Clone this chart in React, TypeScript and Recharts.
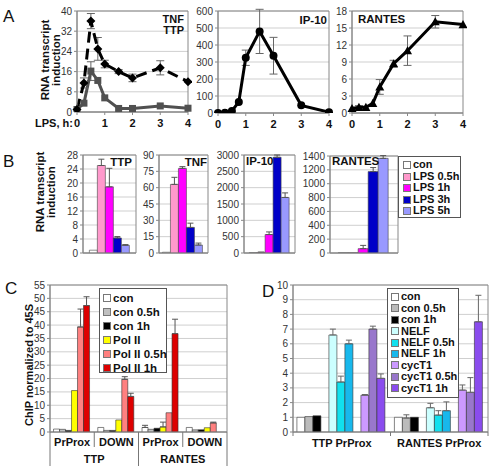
import React from "react";
import {
  LineChart,
  Line,
  BarChart,
  Bar,
  XAxis,
  YAxis,
  CartesianGrid,
  ErrorBar,
  ReferenceArea,
} from "recharts";

const FONT = '"Liberation Sans", Arial, Helvetica, sans-serif';

// ---------------- Panel A data ----------------
const lpsHours = [0, 0.25, 0.5, 0.75, 1, 1.5, 2, 3, 4];
const hourTicks = [0, 1, 2, 3, 4];
const tnfA = [1, 11.5, 36, 25, 19, 16, 13.5, 17.5, 12];
const tnfAErr = [null, 2, 3, 4.5, 1.5, 0.8, 1.5, 2.8, null];
const ttpA = [1, 3.5, 16.2, 12.5, 5.6, 1.4, 1.4, 2.4, 1.5];
const ttpAErr = [null, null, 3.7, null, null, null, null, null, null];
const ip10A = [0, 2, 12, 65, 325, 480, 337, 45, 5];
const ip10AErr = [null, null, null, null, 45, 130, 108, null, null];
const rantesA = [0.8, 1.0, 1.0, 1.7, 4.6, 8.7, 11, 16.1, 15.6];
const rantesAErr = [null, 0.3, null, null, 1.3, 0.6, 2.6, 1.1, null];
const tnfTtpTicks = [0, 8, 16, 24, 32, 40];
const ip10Ticks = [0, 100, 200, 300, 400, 500, 600];
const rantesTicks = [0, 3, 6, 9, 12, 15, 18];

// ---------------- Panel B data ----------------
const genesB = ["TTP", "TNF", "IP-10", "RANTES"];
const seriesB = ["con", "LPS 0.5h", "LPS 1h", "LPS 3h", "LPS 5h"];
const colorsB = ["#FFFFFF", "#FF99CC", "#FF00FF", "#0000C8", "#9999FF"];
const bCon = [0.8, 0.7, 3, 1];
const bLps05 = [25, 63, 20, 2];
const bLps1 = [18.9, 77.7, 565, 63];
const bLps3 = [4.3, 23.5, 2930, 1175];
const bLps5 = [2.2, 7.3, 1700, 1366];
const bConErr = [0, 0, 0, 0];
const bLps05Err = [1.8, 6.5, 5, 0];
const bLps1Err = [5.3, 1.6, 80, 47];
const bLps3Err = [0.4, 3.9, 70, 58];
const bLps5Err = [0.2, 1.8, 140, 40];
const ttpTicksB = [0, 4, 8, 12, 16, 20, 24, 28];
const tnfTicksB = [0, 15, 30, 45, 60, 75, 90];
const ip10TicksB = [0, 500, 1000, 1500, 2000, 2500, 3000];
const rantesTicksB = [0, 200, 400, 600, 800, 1000, 1200, 1400];

// ---------------- Panel C data ----------------
const sitesC = ["PrProx", "DOWN", "PrProx", "DOWN"];
const genesC = ["TTP", "RANTES"];
const seriesC = ["con", "con 0.5h", "con 1h", "Pol II", "Pol II 0.5h", "Pol II 1h"];
const colorsC = ["#FFFFFF", "#C0C0C0", "#000000", "#FFFF00", "#FF8080", "#DD0000"];
const cCon = [1.1, 1.7, 1.7, 1.7];
const cCon05 = [1.0, 0.6, 1.0, 0.8];
const cCon1 = [0.6, 0.6, 1.4, 0.8];
const cPol = [15.5, 4.5, 1.9, 1.6];
const cPol05 = [39.3, 19.7, 7.2, 3.4];
const cPol1 = [47.3, 13.3, 36.8, null];
const cConErr = [0, 0, 0.8, 0];
const cCon05Err = [0, 0, 0, 0];
const cCon1Err = [0, 0, 0, 0];
const cPolErr = [0, 0, 1.8, 0];
const cPol05Err = [6.7, 1.0, 0, 0.3];
const cPol1Err = [3.3, 1.2, 5.4, 0];
const ticksC = [0, 5, 10, 15, 20, 25, 30, 35, 40, 45, 50, 55];

// ---------------- Panel D data ----------------
const sitesD = ["TTP PrProx", "RANTES PrProx"];
const seriesD = ["con", "con 0.5h", "con 1h", "NELF", "NELF 0.5h", "NELF 1h", "cycT1", "cycT1 0.5h", "cycT1 1h"];
const colorsD = ["#FFFFFF", "#BBBBBB", "#000000", "#CCFFFF", "#11E0EE", "#18B8EC", "#CC99FF", "#9977CC", "#8A4CEE"];
const dCon = [1.0, 1.0];
const dCon05 = [1.05, 0.95];
const dCon1 = [1.1, 1.0];
const dNelf = [6.6, 1.65];
const dNelf05 = [3.4, 1.15];
const dNelf1 = [6.0, 1.45];
const dCyc = [2.5, 2.85];
const dCyc05 = [7.0, 2.7];
const dCyc1 = [3.65, 7.5];
const dConErr = [0, 0];
const dCon05Err = [0, 0.22];
const dCon1Err = [0, 0];
const dNelfErr = [0.4, 0.3];
const dNelf05Err = [0.4, 0.3];
const dNelf1Err = [0.25, 0.6];
const dCycErr = [0.05, 0.35];
const dCyc05Err = [0.2, 1.0];
const dCyc1Err = [0.3, 1.8];
const ticksD = [0, 1, 2, 3, 4, 5, 6, 7, 8, 9, 10];

// ---------------- helpers ----------------
type Margin = { top: number; right: number; bottom: number; left: number };
function frame(L: number, T: number, R: number, B: number, yw: number, xh: number) {
  const margin: Margin = { top: 6, right: 4, bottom: 4, left: 0 };
  const left = L - yw - margin.left;
  const top = T - margin.top;
  return { left, top, width: R - left + margin.right, height: B - top + xh + margin.bottom, margin };
}

function lineRows() {
  return lpsHours.map((t, i) => ({
    t,
    tnf: tnfA[i],
    tnfE: tnfAErr[i],
    ttp: ttpA[i],
    ttpE: ttpAErr[i],
    ip10: ip10A[i],
    ip10E: ip10AErr[i],
    rantes: rantesA[i],
    rantesE: rantesAErr[i],
  }));
}

function barRows(cats: any[], values: (number | null)[][], errs: number[][]) {
  return cats.map((c, i) => {
    const r: any = { idx: i, cat: c };
    values.forEach((v, k) => {
      r["s" + k] = v[i];
      r["e" + k] = errs[k][i] ? [0, errs[k][i]] : null;
    });
    return r;
  });
}

const diamondDot = (color: string, s: number) => (p: any) =>
  p.cx == null || p.cy == null ? (
    <g key={"dd" + p.index} />
  ) : (
    <polygon
      key={"dd" + p.index}
      points={`${p.cx},${p.cy - s} ${p.cx + s},${p.cy} ${p.cx},${p.cy + s} ${p.cx - s},${p.cy}`}
      fill={color}
    />
  );
const squareDot = (color: string, s: number) => (p: any) =>
  p.cx == null || p.cy == null ? (
    <g key={"sq" + p.index} />
  ) : (
    <rect key={"sq" + p.index} x={p.cx - s} y={p.cy - s} width={2 * s} height={2 * s} fill={color} />
  );
const circleDot = (color: string, r: number) => (p: any) =>
  p.cx == null || p.cy == null ? (
    <g key={"ci" + p.index} />
  ) : (
    <circle key={"ci" + p.index} cx={p.cx} cy={p.cy} r={r} fill={color} />
  );
const triDot = (color: string, s: number) => (p: any) =>
  p.cx == null || p.cy == null ? (
    <g key={"tr" + p.index} />
  ) : (
    <polygon
      key={"tr" + p.index}
      points={`${p.cx},${p.cy - s} ${p.cx + s},${p.cy + s * 0.8} ${p.cx - s},${p.cy + s * 0.8}`}
      fill={color}
    />
  );

const Txt = ({ x, y, size = 11.5, bold = true, align = "left", children }: any) => (
  <div
    style={{
      position: "absolute",
      left: align === "right" ? undefined : x,
      right: align === "right" ? 490 - x : undefined,
      top: y,
      fontFamily: FONT,
      fontSize: size,
      fontWeight: bold ? "bold" : "normal",
      lineHeight: `${size}px`,
      whiteSpace: "nowrap",
      color: "#111",
    }}
  >
    {children}
  </div>
);

const VTitle = ({ cx, cy, lines, size = 11.5, lh = 11 }: any) => (
  <div
    style={{
      position: "absolute",
      left: cx,
      top: cy,
      transform: "translate(-50%, -50%) rotate(-90deg)",
      fontFamily: FONT,
      fontSize: size,
      fontWeight: "bold",
      lineHeight: `${lh}px`,
      textAlign: "center",
      whiteSpace: "nowrap",
      color: "#111",
    }}
  >
    {lines.map((l: string) => (
      <div key={l}>{l}</div>
    ))}
  </div>
);

const LegendBox = ({ left, top, width, height, names, colors, size, rowH, padTop, swLeft, textLeft }: any) => (
  <div
    style={{
      position: "absolute",
      left,
      top,
      width,
      height,
      border: "1px solid #555",
      background: "#fff",
      boxSizing: "border-box",
      fontFamily: FONT,
    }}
  >
    {names.map((n: string, i: number) => (
      <div
        key={n}
        style={{ position: "absolute", left: 0, top: padTop + i * rowH - rowH / 2, height: rowH, width: "100%" }}
      >
        <div
          style={{
            position: "absolute",
            left: swLeft,
            top: rowH / 2 - 4,
            width: 8,
            height: 8,
            background: colors[i],
            border: "1px solid #777",
            boxSizing: "border-box",
          }}
        />
        <div
          style={{
            position: "absolute",
            left: textLeft,
            top: 0,
            lineHeight: `${rowH}px`,
            fontSize: size,
            fontWeight: "bold",
            whiteSpace: "nowrap",
            color: "#111",
          }}
        >
          {n}
        </div>
      </div>
    ))}
  </div>
);

const yTick = { fontSize: 10, fill: "#333", fontFamily: FONT };
const AXIS = "#888";
const GRID = "#cfcfcf";

// ---------------- Panel A charts ----------------
function TimeChart({ f, yw, ticks, children }: any) {
  const data = lineRows();
  const max = ticks[ticks.length - 1];
  return (
    <div style={{ position: "absolute", left: f.left, top: f.top }}>
      <LineChart width={f.width} height={f.height} data={data} margin={f.margin}>
        <CartesianGrid vertical={false} stroke={GRID} />
        <ReferenceArea x1={0} x2={4} y1={0} y2={max} fill="none" stroke={AXIS} strokeWidth={1} />
        <XAxis
          type="number"
          dataKey="t"
          domain={[0, 4]}
          ticks={hourTicks}
          interval={0}
          height={18}
          tickSize={3}
          tickMargin={4}
          stroke={AXIS}
          tick={{ fontSize: 11, fontWeight: "bold", fill: "#111", fontFamily: FONT }}
        />
        <YAxis
          type="number"
          domain={[0, max]}
          ticks={ticks}
          interval={0}
          allowDataOverflow
          width={yw}
          tickSize={3}
          tickMargin={2}
          stroke={AXIS}
          tick={yTick}
        />
        {children}
      </LineChart>
    </div>
  );
}

// ---------------- Panel B charts ----------------
function GeneBars({ f, yw, gi, ticks, gap }: any) {
  const vals = [bCon, bLps05, bLps1, bLps3, bLps5];
  const errs = [bConErr, bLps05Err, bLps1Err, bLps3Err, bLps5Err];
  const data = barRows([genesB[gi]], vals.map((v) => [v[gi]]), errs.map((e) => [e[gi]]));
  const max = ticks[ticks.length - 1];
  return (
    <div style={{ position: "absolute", left: f.left, top: f.top }}>
      <BarChart width={f.width} height={f.height} data={data} margin={f.margin} barGap={0} barCategoryGap={gap}>
        <CartesianGrid vertical={false} stroke={GRID} />
        <ReferenceArea y1={0} y2={max} fill="none" stroke={AXIS} strokeWidth={1} />
        <XAxis dataKey="cat" tick={false} tickLine={false} height={1} stroke={AXIS} />
        <YAxis
          type="number"
          domain={[0, max]}
          ticks={ticks}
          interval={0}
          allowDataOverflow
          width={yw}
          tickSize={3}
          tickMargin={2}
          stroke={AXIS}
          tick={yTick}
        />
        {seriesB.map((s, k) => (
          <Bar key={s} dataKey={"s" + k} fill={colorsB[k]} stroke="#444" strokeWidth={0.6} isAnimationActive={false}>
            <ErrorBar dataKey={"e" + k} width={3} stroke="#555" strokeWidth={1} direction="y" />
          </Bar>
        ))}
      </BarChart>
    </div>
  );
}

// ---------------- Panel C ----------------
const CTick = (props: any) => {
  const { x, y, payload } = props;
  const i = Number(payload?.value ?? 0);
  const off = payload?.offset ?? 22;
  return (
    <g>
      <text x={x} y={y + 14} textAnchor="middle" fontSize={11} fontWeight="bold" fontFamily={FONT} fill="#111">
        {sitesC[i]}
      </text>
      <line x1={x - off} x2={x - off} y1={y} y2={y + (i % 2 === 0 ? 34 : 15)} stroke="#777" />
      {i % 2 === 0 && (
        <text x={x + off} y={y + 31} textAnchor="middle" fontSize={11} fontWeight="bold" fontFamily={FONT} fill="#111">
          {genesC[i / 2]}
        </text>
      )}
      {i === sitesC.length - 1 && <line x1={x + off} x2={x + off} y1={y} y2={y + 34} stroke="#777" />}
    </g>
  );
};

function ChipC({ f }: any) {
  const data = barRows(
    sitesC,
    [cCon, cCon05, cCon1, cPol, cPol05, cPol1],
    [cConErr, cCon05Err, cCon1Err, cPolErr, cPol05Err, cPol1Err]
  );
  return (
    <div style={{ position: "absolute", left: f.left, top: f.top }}>
      <BarChart width={f.width} height={f.height} data={data} margin={f.margin} barGap={0} barCategoryGap="8%">
        <CartesianGrid vertical={false} stroke={GRID} />
        <ReferenceArea y1={0} y2={55} fill="none" stroke={AXIS} strokeWidth={1} />
        <XAxis
          dataKey="idx"
          type="category"
          interval={0}
          tick={<CTick />}
          tickLine={false}
          tickSize={0}
          tickMargin={0}
          height={34}
          stroke={AXIS}
        />
        <YAxis
          type="number"
          domain={[0, 55]}
          ticks={ticksC}
          interval={0}
          allowDataOverflow
          width={18}
          tickSize={3}
          tickMargin={2}
          stroke={AXIS}
          tick={yTick}
        />
        {seriesC.map((s, k) => (
          <Bar key={s} dataKey={"s" + k} fill={colorsC[k]} stroke="#333" strokeWidth={0.6} isAnimationActive={false}>
            <ErrorBar dataKey={"e" + k} width={3} stroke="#555" strokeWidth={1} direction="y" />
          </Bar>
        ))}
      </BarChart>
    </div>
  );
}

// ---------------- Panel D ----------------
const DTick = (props: any) => {
  const { x, y, payload } = props;
  const i = Number(payload?.value ?? 0);
  const off = payload?.offset ?? 49;
  return (
    <g>
      <text x={x} y={y + 15} textAnchor="middle" fontSize={11} fontWeight="bold" fontFamily={FONT} fill="#111">
        {sitesD[i]}
      </text>
      <line x1={x - off} x2={x - off} y1={y} y2={y + 4} stroke="#777" />
      {i === sitesD.length - 1 && <line x1={x + off} x2={x + off} y1={y} y2={y + 4} stroke="#777" />}
    </g>
  );
};

function ChipD({ f }: any) {
  const data = barRows(
    sitesD,
    [dCon, dCon05, dCon1, dNelf, dNelf05, dNelf1, dCyc, dCyc05, dCyc1],
    [dConErr, dCon05Err, dCon1Err, dNelfErr, dNelf05Err, dNelf1Err, dCycErr, dCyc05Err, dCyc1Err]
  );
  const order: (number | string)[] = [0, 1, 2, "gapA", 3, 4, 5, "gapB", 6, 7, 8];
  return (
    <div style={{ position: "absolute", left: f.left, top: f.top }}>
      <BarChart width={f.width} height={f.height} data={data} margin={f.margin} barGap={0} barCategoryGap="4%">
        <CartesianGrid vertical={false} stroke={GRID} />
        <ReferenceArea y1={0} y2={10} fill="none" stroke={AXIS} strokeWidth={1} />
        <XAxis
          dataKey="idx"
          type="category"
          interval={0}
          tick={<DTick />}
          tickLine={false}
          tickSize={0}
          tickMargin={0}
          height={20}
          stroke={AXIS}
        />
        <YAxis
          type="number"
          domain={[0, 10]}
          ticks={ticksD}
          interval={0}
          allowDataOverflow
          width={20}
          tickSize={3}
          tickMargin={2}
          stroke={AXIS}
          tick={yTick}
        />
        {order.map((k) =>
          typeof k === "string" ? (
            <Bar key={k} dataKey={k} fill="none" legendType="none" isAnimationActive={false} />
          ) : (
            <Bar
              key={seriesD[k]}
              dataKey={"s" + k}
              fill={colorsD[k]}
              stroke="#333"
              strokeWidth={0.6}
              isAnimationActive={false}
            >
              <ErrorBar dataKey={"e" + k} width={3} stroke="#666" strokeWidth={1} direction="y" />
            </Bar>
          )
        )}
      </BarChart>
    </div>
  );
}

export default function App() {
  const a1 = frame(77, 11, 188, 112, 24, 18);
  const a2 = frame(218, 11, 329, 113, 30, 18);
  const a3 = frame(352, 11, 463, 113, 22, 18);
  const bTtp = frame(83, 155, 136, 253, 20, 1);
  const bTnf = frame(159, 155, 208, 253, 20, 1);
  const bIp = frame(244, 155, 295, 253, 30, 1);
  const bRan = frame(330, 156, 398, 253, 30, 1);
  const fc = frame(50, 285, 227, 432, 18, 34);
  const fd = frame(293, 285, 488, 432, 20, 20);

  return (
    <div
      style={{
        position: "absolute",
        left: 0,
        top: 0,
        width: 490,
        height: 466,
        overflow: "hidden",
        background: "#fff",
        fontFamily: FONT,
      }}
    >
      {/* Panel A */}
      <TimeChart f={a1} yw={24} ticks={tnfTtpTicks}>
        <Line
          dataKey="ttp"
          stroke="#505050"
          strokeWidth={3}
          dot={squareDot("#505050", 3.5)}
          activeDot={false}
          isAnimationActive={false}
        >
          <ErrorBar dataKey="ttpE" width={4} stroke="#666" strokeWidth={1} direction="y" />
        </Line>
        <Line
          dataKey="tnf"
          stroke="#000"
          strokeWidth={3}
          strokeDasharray="11 6"
          dot={diamondDot("#000", 4.5)}
          activeDot={false}
          isAnimationActive={false}
        >
          <ErrorBar dataKey="tnfE" width={4} stroke="#666" strokeWidth={1} direction="y" />
        </Line>
      </TimeChart>
      <TimeChart f={a2} yw={30} ticks={ip10Ticks}>
        <Line
          dataKey="ip10"
          stroke="#000"
          strokeWidth={3}
          dot={circleDot("#000", 4)}
          activeDot={false}
          isAnimationActive={false}
        >
          <ErrorBar dataKey="ip10E" width={4} stroke="#666" strokeWidth={1} direction="y" />
        </Line>
      </TimeChart>
      <TimeChart f={a3} yw={22} ticks={rantesTicks}>
        <Line
          dataKey="rantes"
          stroke="#000"
          strokeWidth={3}
          dot={triDot("#000", 4.5)}
          activeDot={false}
          isAnimationActive={false}
        >
          <ErrorBar dataKey="rantesE" width={4} stroke="#666" strokeWidth={1} direction="y" />
        </Line>
      </TimeChart>

      {/* Panel B */}
      <GeneBars f={bTtp} yw={20} gi={0} ticks={ttpTicksB} gap="12%" />
      <GeneBars f={bTnf} yw={20} gi={1} ticks={tnfTicksB} gap="7%" />
      <GeneBars f={bIp} yw={30} gi={2} ticks={ip10TicksB} gap="10%" />
      <GeneBars f={bRan} yw={30} gi={3} ticks={rantesTicksB} gap="12%" />

      {/* Panel C and D */}
      <ChipC f={fc} />
      <ChipD f={fd} />

      {/* Letters */}
      <Txt x={3} y={8} size={17} bold={false}>A</Txt>
      <Txt x={3} y={153} size={17} bold={false}>B</Txt>
      <Txt x={5} y={280} size={17} bold={false}>C</Txt>
      <Txt x={262} y={283} size={17} bold={false}>D</Txt>

      {/* Panel A texts */}
      <VTitle cx={51} cy={60} lines={["RNA transcript", "induction"]} />
      <Txt x={35} y={117.5} size={11}>LPS, h:</Txt>
      <Txt x={184} y={13.6} size={11} align="right">TNF</Txt>
      <Txt x={184} y={24.6} size={11} align="right">TTP</Txt>
      <Txt x={327} y={15.3} size={11.5} align="right">IP-10</Txt>
      <Txt x={358} y={13.5} size={11.5}>RANTES</Txt>

      {/* Panel B texts */}
      <VTitle cx={46} cy={192} lines={["RNA transcript", "induction"]} />
      <Txt x={132} y={156.8} size={11.5} align="right">TTP</Txt>
      <Txt x={207} y={157} size={11.5} align="right">TNF</Txt>
      <Txt x={246} y={156} size={11.5}>IP-10</Txt>
      <Txt x={332} y={156} size={11.5}>RANTES</Txt>
      <LegendBox
        left={398}
        top={156}
        width={63}
        height={62}
        names={seriesB}
        colors={colorsB}
        size={11}
        rowH={11.5}
        padTop={8}
        swLeft={4}
        textLeft={14}
      />

      {/* Panel C texts */}
      <VTitle cx={29} cy={365} lines={["ChIP normalized to 45S"]} size={11} />
      <LegendBox
        left={99}
        top={288}
        width={68}
        height={85}
        names={seriesC}
        colors={colorsC}
        size={11.5}
        rowH={14}
        padTop={9}
        swLeft={3}
        textLeft={13}
      />

      {/* Panel D legend */}
      <LegendBox
        left={387}
        top={288}
        width={72}
        height={110}
        names={seriesD}
        colors={colorsD}
        size={11}
        rowH={11.4}
        padTop={8}
        swLeft={3}
        textLeft={13}
      />
    </div>
  );
}
